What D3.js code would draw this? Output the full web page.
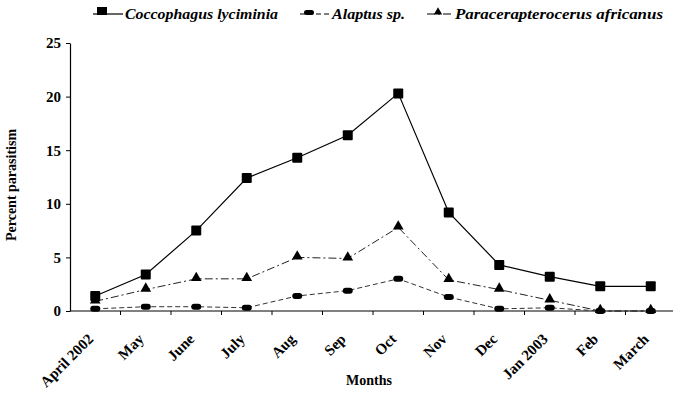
<!DOCTYPE html>
<html>
<head>
<meta charset="utf-8">
<script src="https://cdn.jsdelivr.net/npm/d3@7"></script>
<style>
  body { margin: 0; background: #fff; }
  svg { display: block; }
  text { font-family: "Liberation Serif", "Times New Roman", serif; font-weight: bold; fill: #000; }
</style>
</head>
<body>
<script>
"use strict";

// Data:
var months = ["April 2002", "May", "June", "July", "Aug", "Sep", "Oct", "Nov", "Dec", "Jan 2003", "Feb", "March"];

var coccophagus = [1.4, 3.4, 7.5, 12.4, 14.3, 16.4, 20.3, 9.2, 4.3, 3.2, 2.3, 2.3];
var alaptus     = [0.2, 0.4, 0.4, 0.3, 1.4, 1.9, 3.0, 1.3, 0.2, 0.3, 0.0, 0.0];
var paracer     = [0.9, 2.0, 3.0, 3.0, 5.0, 4.9, 7.8, 2.9, 2.0, 1.0, 0.0, 0.0];

var yTicks = [0, 5, 10, 15, 20, 25];

var seriesNames = ["Coccophagus lyciminia", "Alaptus sp.", "Paracerapterocerus africanus"];

//
/* Chart: */
//
var width = 673,
    height = 399;

var svg = d3.select("body").append("svg")
    .attr("width", width)
    .attr("height", height);

var x = d3.scaleBand()
    .domain(months)
    .range([70, 676]);

var y = d3.scaleLinear()
    .domain([0, 25])
    .range([311, 43]);

function cx(d, i) { return x(months[i]) + x.bandwidth() / 2; }

// Y axis
var yAxis = svg.append("g")
    .attr("transform", "translate(70,0)")
    .call(d3.axisLeft(y).tickValues(yTicks).tickSize(4).tickSizeOuter(0).tickPadding(5));
yAxis.select(".domain").attr("stroke", "#000").attr("stroke-width", 1.2);
yAxis.selectAll("line").attr("stroke", "#000");
yAxis.selectAll("text")
    .style("font-size", "15px")
    .style("font-family", "Liberation Serif")
    .style("font-weight", "bold");

// X axis (ticks between categories)
var xAxisG = svg.append("g").attr("class", "xaxis");
xAxisG.append("line")
    .attr("x1", 70).attr("x2", 676)
    .attr("y1", y(0)).attr("y2", y(0))
    .attr("stroke", "#000")
    .attr("stroke-width", 1);

xAxisG.selectAll(".xtick")
    .data(months)
    .enter()
    .append("line")
    .attr("class", "xtick")
    .attr("x1", function (d) { return x(d) + x.bandwidth(); })
    .attr("x2", function (d) { return x(d) + x.bandwidth(); })
    .attr("y1", y(0))
    .attr("y2", y(0) + 4)
    .attr("stroke", "#000");

xAxisG.selectAll(".xlabel")
    .data(months)
    .enter()
    .append("text")
    .attr("class", "xlabel")
    .attr("transform", function (d) {
        return "translate(" + (x(d) + x.bandwidth() / 2 - 1) + "," + (y(0) + 29) + ") rotate(-45)";
    })
    .attr("text-anchor", "end")
    .style("font-size", "15px")
    .text(function (d) { return d; });

// axis titles
svg.append("text")
    .attr("x", 369)
    .attr("y", 385)
    .attr("text-anchor", "middle")
    .style("font-size", "14px")
    .text("Months");

svg.append("text")
    .attr("transform", "translate(16,185) rotate(-90)")
    .attr("text-anchor", "middle")
    .style("font-size", "14px")
    .text("Percent parasitism");

// lines
var line = d3.line()
    .x(function (d, i) { return cx(d, i); })
    .y(function (d) { return y(d); });

svg.append("path")
    .datum(coccophagus)
    .attr("d", line)
    .attr("fill", "none")
    .attr("stroke", "#000")
    .attr("stroke-width", 1.2);

svg.append("path")
    .datum(paracer)
    .attr("d", line)
    .attr("fill", "none")
    .attr("stroke", "#222")
    .attr("stroke-width", 1)
    .attr("stroke-dasharray", "8,3,2,3");

svg.append("path")
    .datum(alaptus)
    .attr("d", line)
    .attr("fill", "none")
    .attr("stroke", "#333")
    .attr("stroke-width", 1)
    .attr("stroke-dasharray", "5,3");

// markers
function drawSquares(g, data) {
    g.selectAll(".sq")
        .data(data)
        .enter()
        .append("rect")
        .attr("class", "sq")
        .attr("x", function (d, i) { return cx(d, i) - 5; })
        .attr("y", function (d) { return y(d) - 5; })
        .attr("width", 10)
        .attr("height", 10)
        .attr("rx", 1)
        .attr("fill", "#000");
}

function drawPills(g, data) {
    g.selectAll(".pill")
        .data(data)
        .enter()
        .append("rect")
        .attr("class", "pill")
        .attr("x", function (d, i) { return cx(d, i) - 5; })
        .attr("y", function (d) { return y(d) - 3; })
        .attr("width", 10)
        .attr("height", 6)
        .attr("rx", 3)
        .attr("fill", "#000");
}

var tri = d3.symbol().type(d3.symbolTriangle).size(50);
function drawTriangles(g, data) {
    g.selectAll(".tri")
        .data(data)
        .enter()
        .append("path")
        .attr("class", "tri")
        .attr("transform", function (d, i) { return "translate(" + cx(d, i) + "," + (y(d) - 1) + ")"; })
        .attr("d", tri)
        .attr("fill", "#000");
}

drawPills(svg.append("g"), alaptus);
drawTriangles(svg.append("g"), paracer);
drawSquares(svg.append("g"), coccophagus);

// legend
var legend = svg.append("g").attr("class", "legend");
var legendItems = [
    { x: 93,  textX: 125, textW: 153, dash: null },
    { x: 300, textX: 332, textW: 73,  dash: "5,3" },
    { x: 427, textX: 455, textW: 208, dash: "8,3,2,3" }
];
legendItems.forEach(function (it, k) {
    var ly = 14;
    legend.append("line")
        .attr("x1", it.x).attr("x2", it.textX - 2)
        .attr("y1", ly).attr("y2", ly)
        .attr("stroke", "#000")
        .attr("stroke-width", 1.2)
        .attr("stroke-dasharray", it.dash);
    var mx = it.x + 9;
    if (k === 0) {
        legend.append("rect").attr("x", mx - 5).attr("y", ly - 7).attr("width", 10).attr("height", 8).attr("fill", "#000");
    } else if (k === 1) {
        legend.append("rect").attr("x", mx - 5).attr("y", ly - 4).attr("width", 10).attr("height", 5).attr("rx", 2.5).attr("fill", "#000");
    } else {
        legend.append("path").attr("transform", "translate(" + (mx + 2) + "," + (ly - 2) + ")").attr("d", d3.symbol().type(d3.symbolTriangle).size(30)).attr("fill", "#000");
    }
    legend.append("text")
        .attr("x", it.textX)
        .attr("y", ly + 5)
        .attr("textLength", it.textW)
        .attr("lengthAdjust", "spacingAndGlyphs")
        .style("font-size", "15px")
        .style("font-style", "italic")
        .text(seriesNames[k]);
});
</script>
</body>
</html>
